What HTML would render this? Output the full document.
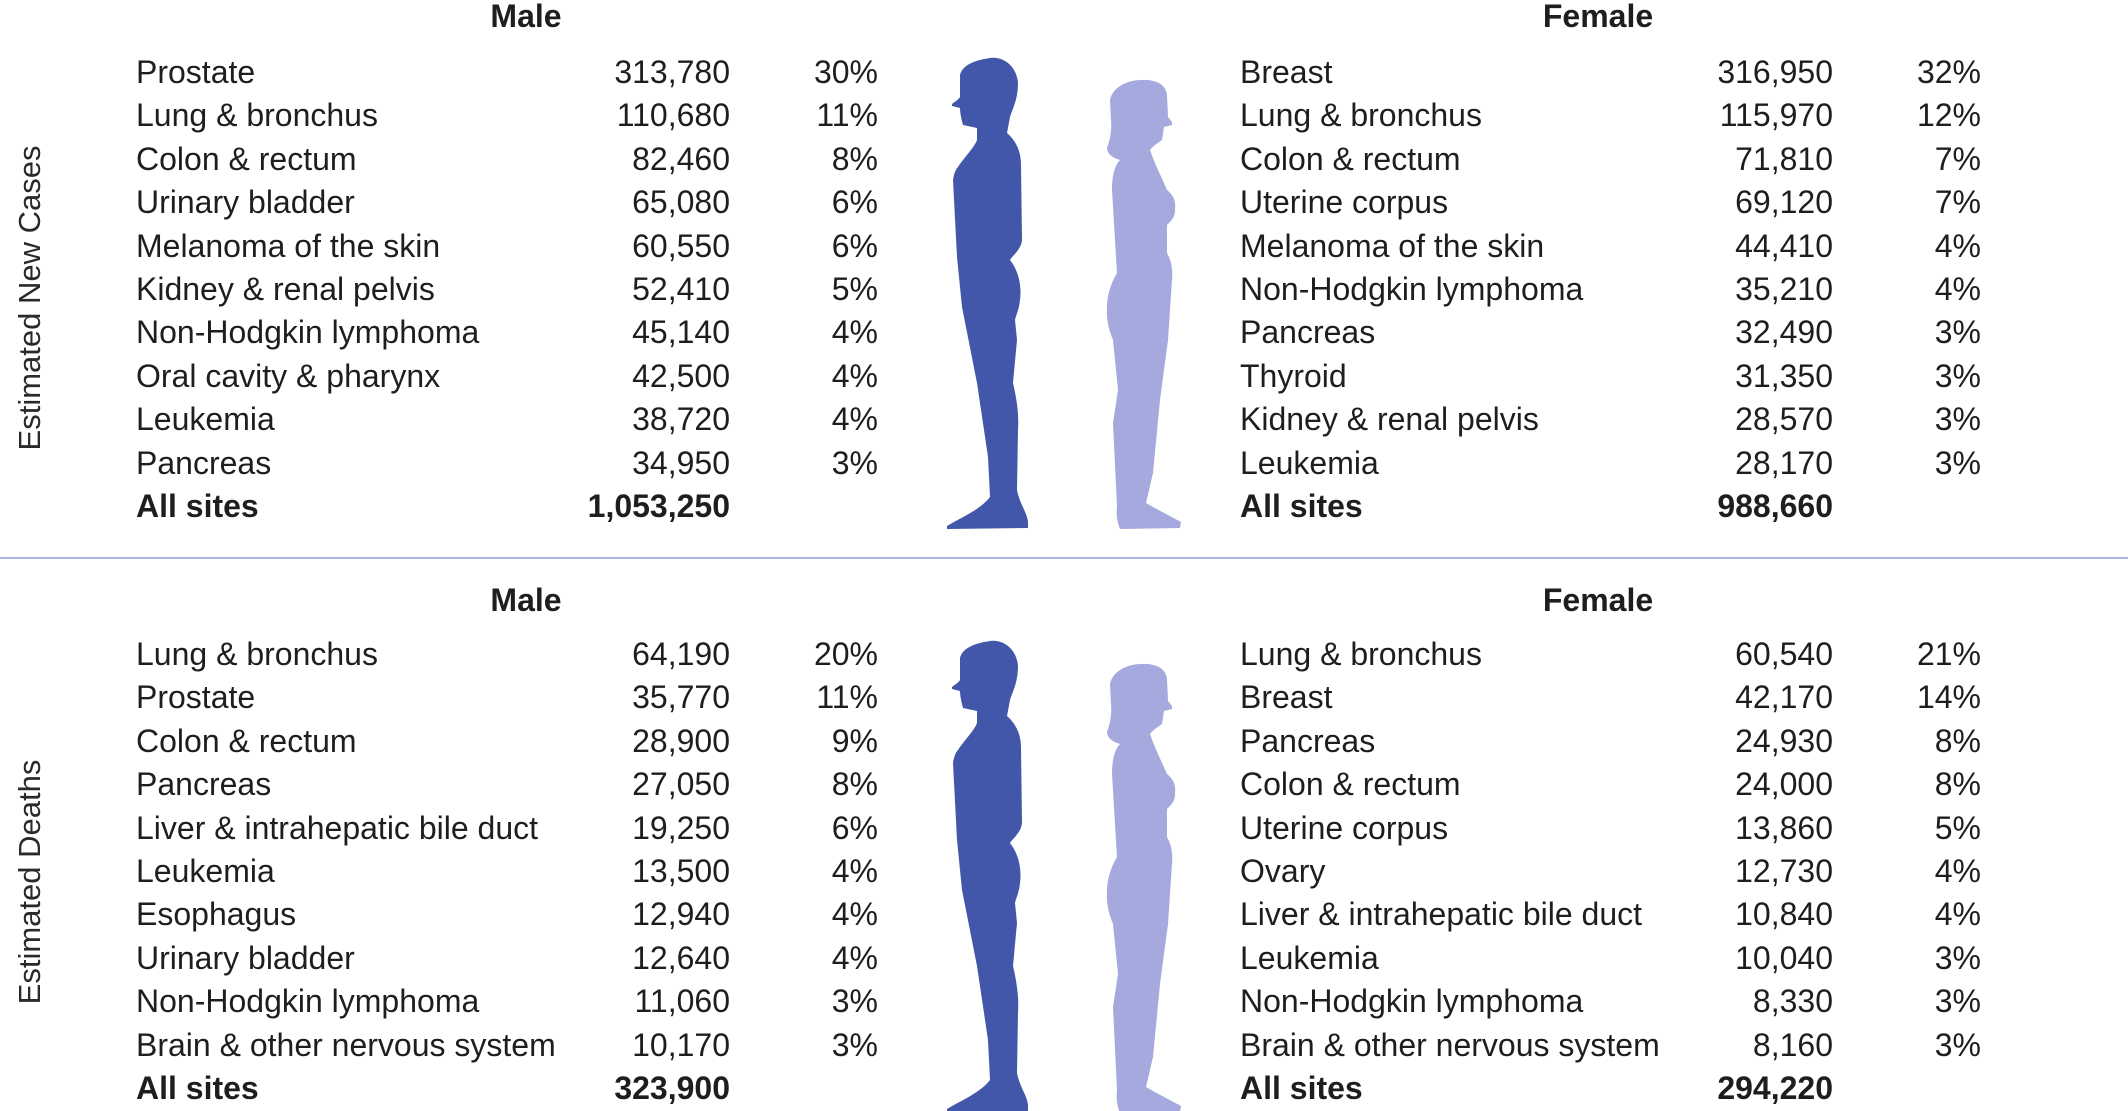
<!DOCTYPE html>
<html><head><meta charset="utf-8"><style>
body{margin:0;width:2128px;height:1111px;background:#fff;position:relative;overflow:hidden;font-family:"Liberation Sans",sans-serif;color:#1e1e1e}
.col{position:absolute;font-size:32px;line-height:43.4px;white-space:nowrap}
.r{text-align:right}
.h{position:absolute;font-size:32px;font-weight:bold;line-height:40px;transform:translateX(-50%)}
.rot{position:absolute;font-size:31px;color:#2a2a2a;transform:translate(-50%,-50%) rotate(-90deg);white-space:nowrap}
</style></head><body>
<div class="h" style="left:526px;top:-4px">Male</div>
<div class="h" style="left:1598px;top:-4px">Female</div>
<div class="h" style="left:526px;top:580px">Male</div>
<div class="h" style="left:1598px;top:580px">Female</div>
<div style="position:absolute;left:0;top:557px;width:2128px;height:2px;background:#b0b2e0"></div>
<div class="rot" style="left:30px;top:298px">Estimated New Cases</div>
<div class="rot" style="left:30px;top:882px">Estimated Deaths</div>

<div class="col" style="left:136px;top:51px">Prostate<br>Lung &amp; bronchus<br>Colon &amp; rectum<br>Urinary bladder<br>Melanoma of the skin<br>Kidney &amp; renal pelvis<br>Non-Hodgkin lymphoma<br>Oral cavity &amp; pharynx<br>Leukemia<br>Pancreas<br><b>All sites</b></div>
<div class="col r" style="right:1398px;top:51px">313,780<br>110,680<br>82,460<br>65,080<br>60,550<br>52,410<br>45,140<br>42,500<br>38,720<br>34,950<br><b>1,053,250</b></div>
<div class="col r" style="right:1250px;top:51px">30%<br>11%<br>8%<br>6%<br>6%<br>5%<br>4%<br>4%<br>4%<br>3%</div>

<div class="col" style="left:1240px;top:51px">Breast<br>Lung &amp; bronchus<br>Colon &amp; rectum<br>Uterine corpus<br>Melanoma of the skin<br>Non-Hodgkin lymphoma<br>Pancreas<br>Thyroid<br>Kidney &amp; renal pelvis<br>Leukemia<br><b>All sites</b></div>
<div class="col r" style="right:295px;top:51px">316,950<br>115,970<br>71,810<br>69,120<br>44,410<br>35,210<br>32,490<br>31,350<br>28,570<br>28,170<br><b>988,660</b></div>
<div class="col r" style="right:147px;top:51px">32%<br>12%<br>7%<br>7%<br>4%<br>4%<br>3%<br>3%<br>3%<br>3%</div>

<div class="col" style="left:136px;top:633px">Lung &amp; bronchus<br>Prostate<br>Colon &amp; rectum<br>Pancreas<br>Liver &amp; intrahepatic bile duct<br>Leukemia<br>Esophagus<br>Urinary bladder<br>Non-Hodgkin lymphoma<br>Brain &amp; other nervous system<br><b>All sites</b></div>
<div class="col r" style="right:1398px;top:633px">64,190<br>35,770<br>28,900<br>27,050<br>19,250<br>13,500<br>12,940<br>12,640<br>11,060<br>10,170<br><b>323,900</b></div>
<div class="col r" style="right:1250px;top:633px">20%<br>11%<br>9%<br>8%<br>6%<br>4%<br>4%<br>4%<br>3%<br>3%</div>

<div class="col" style="left:1240px;top:633px">Lung &amp; bronchus<br>Breast<br>Pancreas<br>Colon &amp; rectum<br>Uterine corpus<br>Ovary<br>Liver &amp; intrahepatic bile duct<br>Leukemia<br>Non-Hodgkin lymphoma<br>Brain &amp; other nervous system<br><b>All sites</b></div>
<div class="col r" style="right:295px;top:633px">60,540<br>42,170<br>24,930<br>24,000<br>13,860<br>12,730<br>10,840<br>10,040<br>8,330<br>8,160<br><b>294,220</b></div>
<div class="col r" style="right:147px;top:633px">21%<br>14%<br>8%<br>8%<br>5%<br>4%<br>4%<br>3%<br>3%<br>3%</div>

<svg width="2128" height="1111" style="position:absolute;left:0;top:0">
<defs>
<path id="m" d="M90,18 C105,16 117,28 118,43 C118,60 112,70 110,77 L107,93 C115,100 121,110 121,125 L122,200 C121,210 112,216 110,220 C118,230 122,245 120,260 C119,270 116,275 115,280 L117,300 L113,343 C117,360 119,375 118,390 L117,450 C120,465 127,472 128,482 L128,488 L47,489 L47,486 C60,478 80,470 90,457 L88,417 L77,343 L62,267 L60,247 L57,217 L53,140 C54,133 56,129 58,127 C66,115 74,108 77,100 L77,88 L63,85 C61,78 60,72 60,68 L52,66 L52,64 C56,61 59,59 60,57 L60,35 C62,27 70,21 90,18 Z"/>
<path id="f" d="M240,40 C255,39 266,44 267,55 L268,77 L272,82 L272,85 L264,87 L262,100 C256,104 252,107 250,110 C255,125 262,138 267,150 C273,155 276,160 275,170 C275,178 270,182 267,185 L267,213 C271,220 273,228 272,240 L268,300 L260,360 L253,433 L246,463 C258,470 270,476 281,482 L280,488 L220,489 C217,482 216,474 217,467 L213,383 L218,350 L213,300 C209,290 206,280 207,265 C208,250 213,240 217,233 L212,150 C212,135 215,125 220,120 C213,118 207,114 207,108 C210,100 212,90 211,80 L210,60 C212,50 222,41 240,40 Z"/>
</defs>
<use href="#m" transform="translate(900,40)" fill="#4257a9"/>
<use href="#f" transform="translate(900,40)" fill="#a5a9dd"/>
<use href="#m" transform="translate(900,623)" fill="#4257a9"/>
<use href="#f" transform="translate(900,624)" fill="#a5a9dd"/>
</svg>
</body></html>
